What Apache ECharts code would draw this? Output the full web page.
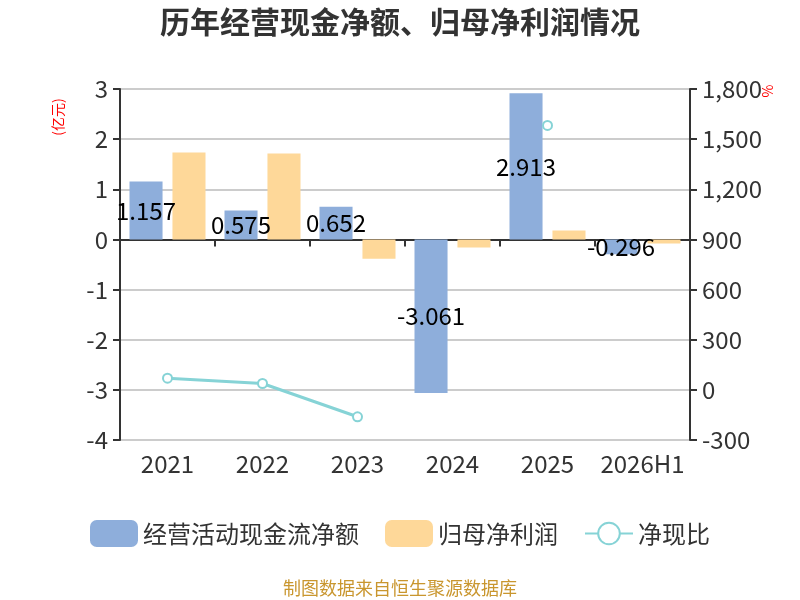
<!DOCTYPE html>
<html>
<head>
<meta charset="utf-8">
<script src="https://cdn.jsdelivr.net/npm/echarts@6/dist/echarts.min.js"></script>
<style>
    html, body { margin: 0; padding: 0; background: #fff; }
    #main { width: 800px; height: 600px; }
</style>
</head>
<body>
<div id="main"></div>
<script>
var years = ['2021', '2022', '2023', '2024', '2025', '2026H1'];
var cashFlow = [1.157, 0.575, 0.652, -3.061, 2.913, -0.296];   // 经营活动现金流净额
var netProfit = [1.735, 1.715, -0.385, -0.16, 0.18, -0.08];     // 归母净利润
var cashRatio = [70, 38, -161, null, 1582, null];               // 净现比 %
var leftTicks = { min: -4, max: 3, step: 1 };
var rightTicks = { min: -300, max: 1800, step: 300 };

var font = 'Noto Sans CJK SC';

function addCommas(v) {
    return String(v).replace(/\B(?=(\d{3})+(?!\d))/g, ',');
}

// 轴名称（竖排红字）
function axisNameText(txt, x, y) {
    return {
        type: 'text',
        x: x,
        y: y,
        rotation: Math.PI / 2,
        style: {
            text: txt,
            fill: 'red',
            fontSize: 14,
            fontFamily: font,
            align: 'center',
            verticalAlign: 'middle'
        }
    };
}

function getOpt() {
    var opt = {
        backgroundColor: '#fff',
        textStyle: { fontFamily: font },
        title: {
            text: '历年经营现金净额、归母净利润情况',
            left: 'center',
            top: 2,
            textStyle: { fontSize: 30, fontWeight: 'bold', color: '#333', fontFamily: font }
        },
        legend: {
            bottom: 48,
            left: 'center',
            itemWidth: 48,
            itemHeight: 27,
            itemGap: 26,
            textStyle: { fontSize: 24, color: '#333', fontFamily: font },
            data: [
                { name: '经营活动现金流净额', icon: 'roundRect' },
                { name: '归母净利润', icon: 'roundRect' },
                { name: '净现比' }
            ]
        },
        graphic: [{
            type: 'text',
            left: 'center',
            top: 579,
            style: {
                text: '制图数据来自恒生聚源数据库',
                fill: '#c9962e',
                fontSize: 18,
                fontFamily: font
            }
        },
            axisNameText('(亿元)', 58, 117),
            axisNameText('%', 768, 91)
        ],
        grid: { left: 120, right: 110, top: 89, bottom: 160 },
        xAxis: [{
            type: 'category',
            data: years,
            axisLine: { onZero: true, lineStyle: { color: '#333', width: 2 } },
            axisTick: { show: true, length: 7, lineStyle: { color: '#333', width: 2 } },
            axisLabel: { show: false }
        }, {
            type: 'category',
            data: years,
            position: 'bottom',
            axisLine: { show: false },
            axisTick: { show: false },
            axisLabel: { fontSize: 24, color: '#333', margin: 12, interval: 0 }
        }],
        yAxis: [{
            type: 'value',
            min: leftTicks.min,
            max: leftTicks.max,
            interval: leftTicks.step,
            axisLine: { show: true, lineStyle: { color: '#333', width: 2 } },
            axisTick: { show: true, length: 7, lineStyle: { color: '#333', width: 2 } },
            axisLabel: { fontSize: 24, color: '#333', margin: 12 },
            splitLine: { lineStyle: { color: '#ccc', width: 2 } }
        }, {
            type: 'value',
            min: rightTicks.min,
            max: rightTicks.max,
            interval: rightTicks.step,
            axisLine: { show: true, lineStyle: { color: '#333', width: 2 } },
            axisTick: { show: true, length: 7, lineStyle: { color: '#333', width: 2 } },
            axisLabel: {
                fontSize: 24, color: '#333', margin: 12,
                formatter: function (v) { return addCommas(v); }
            },
            splitLine: { show: false }
        }],
        series: [{
            name: '经营活动现金流净额',
            type: 'bar',
            xAxisIndex: 0,
            yAxisIndex: 0,
            barGap: '30%',
            barCategoryGap: '20%',
            itemStyle: { color: '#8eaedb' },
            label: {
                show: true,
                position: 'inside',
                color: '#000',
                fontSize: 24,
                fontFamily: font
            },
            data: cashFlow
        }, {
            name: '归母净利润',
            type: 'bar',
            xAxisIndex: 0,
            yAxisIndex: 0,
            itemStyle: { color: '#fed899' },
            data: netProfit
        }, {
            name: '净现比',
            type: 'line',
            xAxisIndex: 0,
            yAxisIndex: 1,
            symbol: 'emptyCircle',
            symbolSize: 9,
            connectNulls: false,
            lineStyle: { color: '#86d3d6', width: 3 },
            itemStyle: { color: '#86d3d6', borderWidth: 2 },
            data: cashRatio
        }]
    };
    return opt;
}

var chart = echarts.init(document.getElementById('main'), null, { renderer: 'canvas' });
chart.setOption(getOpt());
</script>
</body>
</html>
